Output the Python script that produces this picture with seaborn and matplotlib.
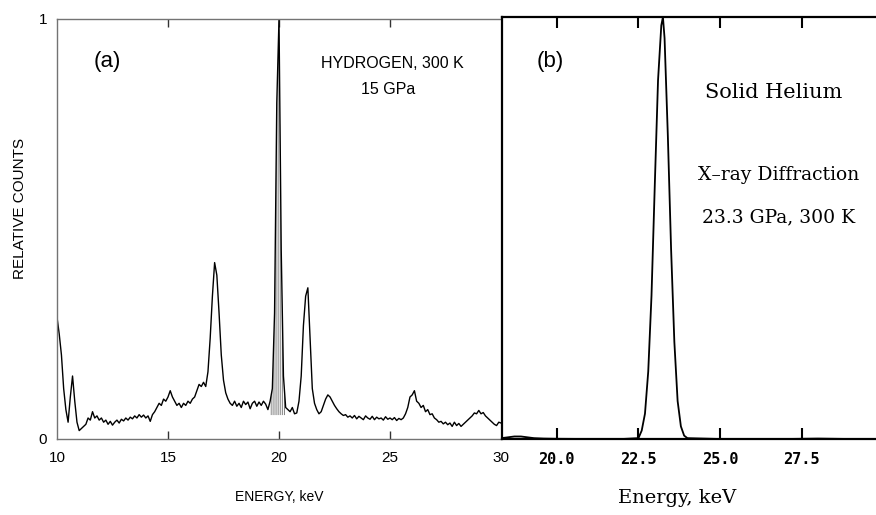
import numpy as np
import pandas as pd
import matplotlib
matplotlib.use("Agg")
import matplotlib.pyplot as plt
import seaborn as sns

# ---------------- data ----------------
# Panel (a): hydrogen, 300 K, 15 GPa  (energy grid 10.0 .. 30.0 keV, step 0.1)
h_energy = [round(10.0 + 0.1 * i, 1) for i in range(201)]
h_counts = [
    0.29, 0.25, 0.20, 0.12, 0.07, 0.04, 0.10, 0.15, 0.09, 0.04,   # 10.0-10.9
    0.020, 0.025, 0.030, 0.035, 0.050, 0.045, 0.065, 0.050, 0.055, 0.045,   # 11
    0.050, 0.040, 0.045, 0.035, 0.042, 0.033, 0.040, 0.045, 0.038, 0.047,   # 12
    0.043, 0.050, 0.045, 0.052, 0.048, 0.055, 0.050, 0.058, 0.052, 0.057,   # 13
    0.050, 0.055, 0.042, 0.058, 0.065, 0.075, 0.085, 0.080, 0.095, 0.090,   # 14
    0.100, 0.115, 0.100, 0.090, 0.080, 0.085, 0.075, 0.085, 0.080, 0.090,   # 15
    0.085, 0.095, 0.100, 0.115, 0.130, 0.125, 0.135, 0.125, 0.160, 0.240,   # 16
    0.340, 0.420, 0.390, 0.300, 0.200, 0.140, 0.110, 0.095, 0.085, 0.080,   # 17
    0.090, 0.078, 0.085, 0.075, 0.090, 0.082, 0.088, 0.072, 0.085, 0.090,   # 18
    0.078, 0.088, 0.080, 0.090, 0.083, 0.070, 0.090, 0.120, 0.300, 0.800,   # 19
    1.000, 0.450, 0.150, 0.075, 0.070, 0.065, 0.075, 0.060, 0.062, 0.090,   # 20
    0.150, 0.270, 0.340, 0.360, 0.240, 0.120, 0.085, 0.070, 0.060, 0.065,   # 21
    0.080, 0.095, 0.105, 0.100, 0.090, 0.080, 0.072, 0.065, 0.060, 0.056,   # 22
    0.058, 0.052, 0.055, 0.050, 0.056, 0.048, 0.054, 0.050, 0.046, 0.055,   # 23
    0.050, 0.047, 0.054, 0.046, 0.052, 0.048, 0.050, 0.045, 0.053, 0.047,   # 24
    0.050, 0.046, 0.051, 0.044, 0.049, 0.046, 0.050, 0.060, 0.075, 0.100,   # 25
    0.105, 0.115, 0.090, 0.085, 0.075, 0.080, 0.065, 0.070, 0.058, 0.060,   # 26
    0.050, 0.046, 0.040, 0.042, 0.036, 0.040, 0.034, 0.038, 0.030, 0.040,   # 27
    0.032, 0.037, 0.030, 0.035, 0.040, 0.045, 0.050, 0.055, 0.062, 0.060,   # 28
    0.068, 0.060, 0.063, 0.055, 0.050, 0.045, 0.040, 0.035, 0.032, 0.040,   # 29
    0.038,                                                                # 30
]
shade_lo, shade_hi, shade_base = 19.6, 20.3, 0.057

# Panel (b): solid helium, 23.3 GPa, 300 K
he_energy = [18.3, 18.5, 18.7, 18.9, 19.1, 19.3, 19.6, 20.0, 21.0, 22.0, 22.5,
             22.6, 22.7, 22.8, 22.9, 23.0, 23.1, 23.2, 23.25, 23.3, 23.4, 23.5,
             23.6, 23.7, 23.8, 23.9, 24.0, 25.0, 26.0, 27.0, 28.0, 29.0, 29.8]
he_counts = [0.002, 0.004, 0.006, 0.006, 0.004, 0.002, 0.001, 0.0005, 0.0, 0.0, 0.002,
             0.02, 0.06, 0.16, 0.34, 0.60, 0.85, 0.98, 1.0, 0.95, 0.72, 0.45,
             0.23, 0.09, 0.03, 0.008, 0.002, 0.0, 0.0, 0.0, 0.001, 0.0, 0.0]

a_ticks = [10, 15, 20, 25, 30]
a_ticklabels = ["10", "15", "20", "25", "30"]
b_ticks = [20.0, 22.5, 25.0, 27.5]
b_ticklabels = ["20.0", "22.5", "25.0", "27.5"]

# ---------------- figure ----------------
sns.set_theme(style="white")
plt.rcParams["font.family"] = ["Liberation Sans", "DejaVu Sans"]
plt.rcParams["text.color"] = "black"
plt.rcParams["hatch.linewidth"] = 0.6
plt.rcParams["hatch.color"] = "0.4"

W, H = 876, 515
fig = plt.figure(figsize=(W / 100, H / 100), dpi=100)

def fx(px):
    return px / W

def fy(py):
    return 1 - py / H

ax1 = fig.add_axes([fx(57), fy(439), fx(501) - fx(57), fy(19) - fy(439)])
ax2 = fig.add_axes([fx(502), fy(439), fx(880) - fx(502), fy(17) - fy(439)])

dfa = pd.DataFrame({"energy": h_energy, "counts": h_counts})
dfb = pd.DataFrame({"energy": he_energy, "counts": he_counts})

# panel (a)
sns.lineplot(data=dfa, x="energy", y="counts", ax=ax1, color="black",
             linewidth=1.0, estimator=None, sort=False)
mask = (dfa["energy"] >= shade_lo) & (dfa["energy"] <= shade_hi)
ax1.fill_between(dfa["energy"][mask], shade_base, dfa["counts"][mask],
                 facecolor="none", edgecolor="0.4", hatch="||||||||", linewidth=0)
ax1.set_xlim(10, 30)
ax1.set_ylim(0, 1)
ax1.set_xticks(a_ticks)
ax1.set_xticklabels(a_ticklabels)
ax1.set_yticks([0, 1])
ax1.set_yticklabels(["0", "1"])
ax1.set_xlabel("")
ax1.set_ylabel("")
ax1.tick_params(axis="x", direction="in", length=6, width=1, color="0.2",
                top=True, bottom=True, labelsize=11, pad=9, labelcolor="black")
ax1.tick_params(axis="y", length=0, labelsize=11, pad=7, labelcolor="black")
for t in ax1.xaxis.get_major_ticks():
    if t.get_loc() in (10, 30):
        t.tick1line.set_visible(False)
        t.tick2line.set_visible(False)
for s in ["left", "bottom", "top"]:
    ax1.spines[s].set_color("0.45")
    ax1.spines[s].set_linewidth(1.0)
ax1.spines["right"].set_visible(False)

# panel (b)
sns.lineplot(data=dfb, x="energy", y="counts", ax=ax2, color="black",
             linewidth=1.3, estimator=None, sort=False)
ax2.set_xlim(18.32, 29.9)
ax2.set_ylim(0, 1)
ax2.set_xticks(b_ticks)
ax2.set_xticklabels(b_ticklabels, family="DejaVu Sans Mono", fontweight="bold")
ax2.set_yticks([])
ax2.set_xlabel("")
ax2.set_ylabel("")
ax2.tick_params(axis="x", direction="in", length=8, width=1.5, color="black",
                top=True, bottom=True, labelsize=11, pad=9, labelcolor="black")
for s in ["left", "bottom", "top", "right"]:
    ax2.spines[s].set_color("black")
    ax2.spines[s].set_linewidth(1.6)

# texts
fig.text(fx(107), fy(62), "(a)", fontsize=16, ha="center", va="center")
fig.text(fx(392), fy(63), "HYDROGEN, 300 K", fontsize=11.5, ha="center", va="center")
fig.text(fx(388), fy(89), "15 GPa", fontsize=11.5, ha="center", va="center")
fig.text(fx(20), fy(208), "RELATIVE COUNTS", fontsize=11, rotation=90,
         ha="center", va="center")
fig.text(fx(279), fy(497), "ENERGY, keV", fontsize=10, ha="center", va="center")

fig.text(fx(550), fy(62), "(b)", fontsize=16, ha="center", va="center")
fig.text(fx(774), fy(92), "Solid Helium", fontsize=15, family="DejaVu Serif",
         ha="center", va="center")
fig.text(fx(779), fy(175), "X\u2013ray Diffraction", fontsize=13.5, family="DejaVu Serif",
         ha="center", va="center")
fig.text(fx(779), fy(217), "23.3 GPa, 300 K", fontsize=13.5, family="DejaVu Serif",
         ha="center", va="center")
fig.text(fx(677), fy(498), "Energy, keV", fontsize=14, family="DejaVu Serif",
         ha="center", va="center")

fig.savefig("out.png", dpi=100)
